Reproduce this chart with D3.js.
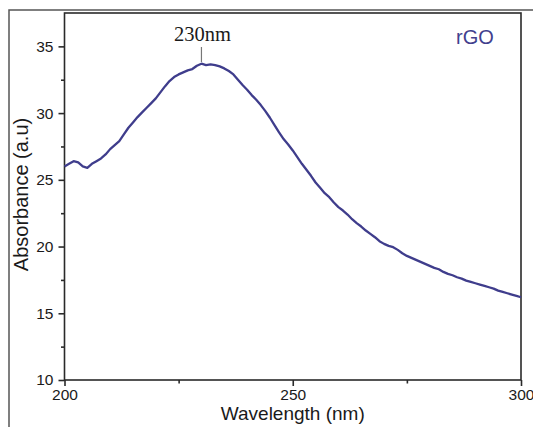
<!DOCTYPE html>
<html>
<head>
<meta charset="utf-8">
<script src="https://cdn.jsdelivr.net/npm/d3@7/dist/d3.min.js"></script>
<style>
  html, body { margin: 0; padding: 0; background: #fff; }
  svg { display: block; }
</style>
</head>
<body>
<svg id="chart" width="533" height="427"></svg>
<script>
// UV-Vis absorbance spectrum of rGO
const wavelength = d3.range(200, 301);
const absorbance = [
  26.0, 26.2, 26.4, 26.3, 26.0, 25.9, 26.2, 26.4, 26.6, 26.9,
  27.3, 27.6, 27.9, 28.4, 28.9, 29.3, 29.7, 30.05, 30.4, 30.75,
  31.1, 31.55, 32.0, 32.4, 32.7, 32.9, 33.05, 33.2, 33.3, 33.55,
  33.7, 33.6, 33.65, 33.6, 33.5, 33.35, 33.15, 32.9, 32.5, 32.1,
  31.75, 31.35, 31.0, 30.6, 30.15, 29.65, 29.1, 28.55, 28.05, 27.65,
  27.2, 26.7, 26.2, 25.75, 25.3, 24.8, 24.4, 24.0, 23.7, 23.3,
  22.95, 22.7, 22.4, 22.05, 21.75, 21.5, 21.2, 20.95, 20.7, 20.4,
  20.2, 20.05, 19.95, 19.75, 19.5, 19.3, 19.15, 19.0, 18.85, 18.7,
  18.55, 18.4, 18.3, 18.1, 17.95, 17.85, 17.7, 17.6, 17.45, 17.35,
  17.25, 17.15, 17.05, 16.95, 16.85, 16.7, 16.6, 16.5, 16.4, 16.3,
  16.2
];
const xMajorTicks = [200, 250, 300];
const xMinorTicks = [225, 275];
const yMajorTicks = [10, 15, 20, 25, 30, 35];
const yMinorTicks = [12.5, 17.5, 22.5, 27.5, 32.5];
const peakWavelength = 230;
const peakLabel = "230nm";
const sampleName = "rGO";

const svg = d3.select("#chart");
const plotLeft = 64.5, plotRight = 521, plotTop = 13, plotBottom = 380;

const x = d3.scaleLinear().domain([200, 300]).range([plotLeft, plotRight]);
const y = d3.scaleLinear().domain([10, 37.5]).range([plotBottom, plotTop]);

const axisColor = "#2a2a2a";
const lineColor = "#3f3d8c";
const tickFont = "15.5px 'Liberation Sans', Arial, sans-serif";

// outer figure frame (top and left edges)
svg.append("path")
  .attr("d", "M9,427 L9,10 L533,10")
  .attr("fill", "none")
  .attr("stroke", "#555")
  .attr("stroke-width", 1.5);

// plot box
svg.append("rect")
  .attr("x", plotLeft).attr("y", plotTop)
  .attr("width", plotRight - plotLeft).attr("height", plotBottom - plotTop)
  .attr("fill", "none")
  .attr("stroke", axisColor)
  .attr("stroke-width", 1.6);

// x axis
const xAxis = d3.axisBottom(x).tickValues(xMajorTicks).tickSize(6).tickSizeOuter(0).tickPadding(3)
  .tickFormat(d3.format("d"));
const gx = svg.append("g").attr("transform", `translate(0,${plotBottom})`).call(xAxis);
gx.select(".domain").remove();
gx.selectAll("line").attr("stroke", axisColor).attr("stroke-width", 1.6);
gx.selectAll("text").attr("fill", "#1a1a1a").style("font", tickFont);

const gxm = svg.append("g").attr("transform", `translate(0,${plotBottom})`)
  .call(d3.axisBottom(x).tickValues(xMinorTicks).tickSize(3.5).tickSizeOuter(0).tickFormat(""));
gxm.select(".domain").remove();
gxm.selectAll("line").attr("stroke", axisColor).attr("stroke-width", 1.6);

// y axis
const yAxis = d3.axisLeft(y).tickValues(yMajorTicks).tickSize(6).tickSizeOuter(0).tickPadding(5)
  .tickFormat(d3.format("d"));
const gy = svg.append("g").attr("transform", `translate(${plotLeft},0)`).call(yAxis);
gy.select(".domain").remove();
gy.selectAll("line").attr("stroke", axisColor).attr("stroke-width", 1.6);
gy.selectAll("text").attr("fill", "#1a1a1a").style("font", tickFont);

const gym = svg.append("g").attr("transform", `translate(${plotLeft},0)`)
  .call(d3.axisLeft(y).tickValues(yMinorTicks).tickSize(3.5).tickSizeOuter(0).tickFormat(""));
gym.select(".domain").remove();
gym.selectAll("line").attr("stroke", axisColor).attr("stroke-width", 1.6);

// spectrum
const spectrum = wavelength.map((w, i) => [w, absorbance[i]]);
svg.append("path")
  .datum(spectrum)
  .attr("fill", "none")
  .attr("stroke", lineColor)
  .attr("stroke-width", 2.3)
  .attr("stroke-linejoin", "round")
  .attr("d", d3.line().x(d => x(d[0])).y(d => y(d[1])));

// peak annotation
svg.append("line")
  .attr("x1", x(peakWavelength)).attr("x2", x(peakWavelength))
  .attr("y1", 47).attr("y2", 62)
  .attr("stroke", "#777").attr("stroke-width", 1.2);
svg.append("text")
  .attr("x", x(peakWavelength) + 1).attr("y", 41)
  .attr("text-anchor", "middle")
  .attr("fill", "#1a1a1a")
  .style("font", "20.5px 'Liberation Serif', 'Times New Roman', serif")
  .text(peakLabel);

// sample label
svg.append("text")
  .attr("x", 475).attr("y", 43.5)
  .attr("text-anchor", "middle")
  .attr("fill", "#423f8e")
  .style("font", "20px 'Liberation Sans', Arial, sans-serif")
  .text(sampleName);

// axis titles
svg.append("text")
  .attr("x", (plotLeft + plotRight) / 2).attr("y", 420)
  .attr("text-anchor", "middle")
  .attr("fill", "#1a1a1a")
  .style("font", "19px 'Liberation Sans', Arial, sans-serif")
  .text("Wavelength (nm)");

svg.append("text")
  .attr("transform", `translate(28,${(plotTop + plotBottom) / 2 - 2}) rotate(-90)`)
  .attr("text-anchor", "middle")
  .attr("fill", "#1a1a1a")
  .style("font", "20px 'Liberation Sans', Arial, sans-serif")
  .text("Absorbance (a.u)");
</script>
</body>
</html>
